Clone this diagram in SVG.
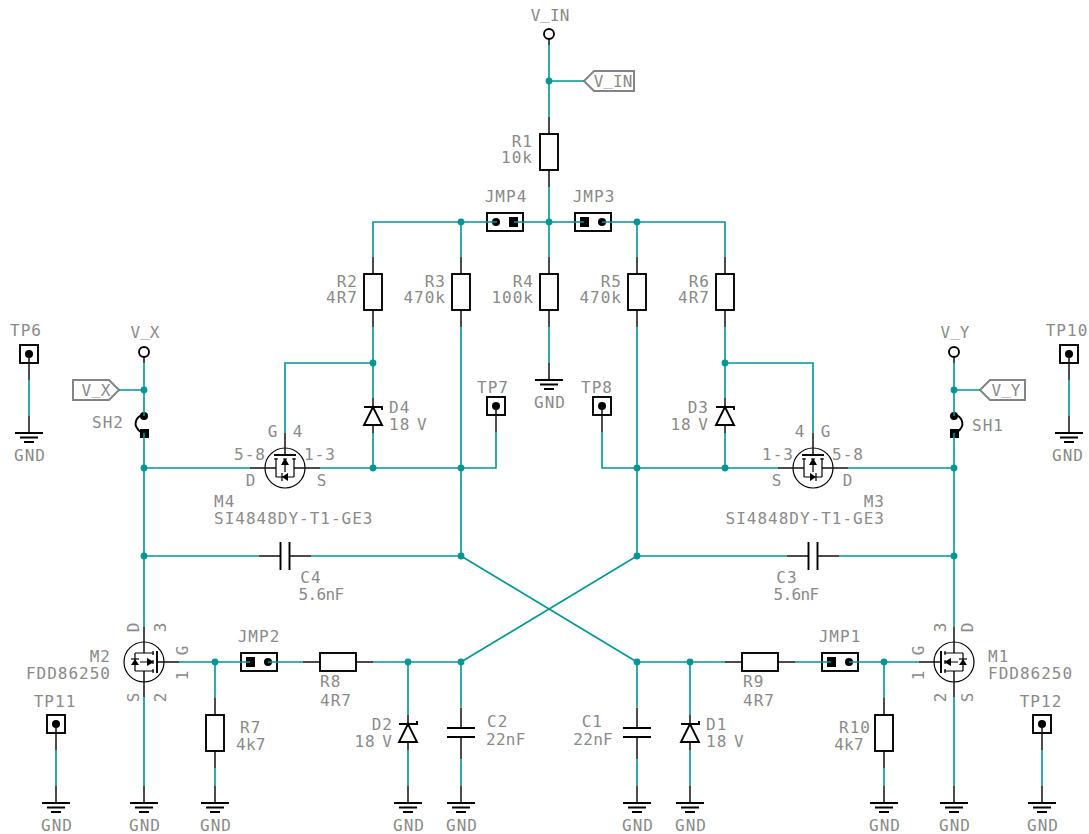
<svg xmlns="http://www.w3.org/2000/svg" width="1089" height="834" viewBox="0 0 1089 834">
<style>
text{font-family:"DejaVu Sans Mono","Liberation Mono",monospace;font-size:16px;letter-spacing:1px;word-spacing:-4px;fill:#8a8a8a;text-anchor:middle}
.e{text-anchor:end}
.s{text-anchor:start}
.u{letter-spacing:0}
.n{letter-spacing:.3px}
.c{letter-spacing:-.6px}
.b{fill:none;stroke:#000;stroke-width:1.9}
.p{fill:none;stroke:#111;stroke-width:1.5}
.t{fill:none;stroke:#000;stroke-width:1.2}
.f{fill:#000;stroke:none}
.w{fill:none;stroke:#009696;stroke-width:1.6}
.j{fill:#009696;stroke:none}
.l{fill:#fff;stroke:#848484;stroke-width:2}
</style>
<defs>
<g id="gnd"><path class="p" d="M0-17V0"/><path class="b" d="M-14 0H14M-9 4.500H9M-5 9H5"/></g>
<g id="res"><path class="p" d="M0-35V-18M0 18V35"/><rect class="b" x="-9" y="-18" width="18" height="36"/></g>
<g id="resh"><path class="p" d="M-35 0H-18M18 0H35"/><rect class="b" x="-18" y="-9" width="36" height="18"/></g>
<g id="tp"><rect class="b" x="-9" y="-9" width="18" height="18"/><circle class="f" r="4"/><path class="p" d="M0 0V26"/></g>
<g id="vpin"><circle class="b" r="5"/><path class="p" d="M0 5V11"/></g>
<g id="zener"><path class="p" d="M0-9V0M0 18V26"/><path class="b" d="M-9 0H9V3M0 0L-9 18H9Z"/></g>
<g id="zenerb"><path class="p" d="M0-9V0M0 18V26"/><path class="b" d="M-9 0H9V-3M0 0L-9 18H9Z"/></g>
<g id="jmp"><rect class="b" x="-18" y="-9" width="36" height="18"/><rect class="f" x="-13" y="-5" width="9" height="10"/><circle class="f" cx="9" r="4"/></g>
<g id="capv"><path class="p" d="M0-25V-4.500M0 4.500V27"/><path class="b" d="M-14-4.500H14M-14 4.500H14"/></g>
<g id="caph"><path class="p" d="M-26.500 0H-4.500M4.500 0H26.500"/><path class="b" d="M-4.500-14V14M4.500-14V14"/></g>
<g id="mos">
<circle class="t" r="20"/>
<path class="p" d="M0-35V-9M0 35V9M13 0H35"/>
<path class="t" d="M-9-9H10M-9 9H10M-9-9V9M9-11V-7M9-2V2M9 7V11M-4 0H3"/>
<path class="b" d="M13-11V11"/>
<path class="f" d="M3-4V4L10 0ZM-13 3H-5L-9-3Z"/>
<path class="t" d="M-13-3H-5"/>
</g>
</defs>

<g id="V_IN_PIN"><use href="#vpin" x="549" y="34"/><text class="u" x="550" y="21">V<tspan dy="-2">_</tspan><tspan dy="2">IN</tspan></text></g>
<g id="V_IN_LABEL"><path class="l" d="M584 81L594 71H634V91H594Z"/><text class="u" x="613" y="87">V<tspan dy="-2">_</tspan><tspan dy="2">IN</tspan></text></g>
<g id="R1"><use href="#res" x="549" y="152"/><text class="e" x="533" y="147">R1</text><text class="e" x="533" y="163">10k</text></g>
<g id="JMP4"><g transform="translate(505,222) scale(-1,1)"><use href="#jmp"/></g><text x="506" y="202">JMP4</text></g>
<g id="JMP3"><use href="#jmp" x="593" y="222"/><text x="594" y="202">JMP3</text></g>
<g id="R2"><use href="#res" x="373" y="292"/><text class="e" x="358" y="287">R2</text><text class="e" x="358" y="303">4R7</text></g>
<g id="R3"><use href="#res" x="461" y="292"/><text class="e" x="446" y="287">R3</text><text class="e" x="446" y="303">470k</text></g>
<g id="R4"><use href="#res" x="549" y="292"/><text class="e" x="534" y="287">R4</text><text class="e" x="534" y="303">100k</text></g>
<g id="R5"><use href="#res" x="637" y="292"/><text class="e" x="622" y="287">R5</text><text class="e" x="622" y="303">470k</text></g>
<g id="R6"><use href="#res" x="725" y="292"/><text class="e" x="710" y="287">R6</text><text class="e" x="710" y="303">4R7</text></g>
<g id="GND_R4"><use href="#gnd" x="549" y="380"/><text x="550" y="408">GND</text></g>

<g id="TP6"><use href="#tp" x="29" y="354"/><text x="26" y="336">TP6</text></g>
<g id="GND_TP6"><use href="#gnd" x="29" y="433"/><text x="30" y="461">GND</text></g>
<g id="TP10"><use href="#tp" x="1069" y="354"/><text x="1067" y="336">TP10</text></g>
<g id="GND_TP10"><use href="#gnd" x="1069" y="433"/><text x="1068" y="461">GND</text></g>
<g id="TP7"><use href="#tp" x="496" y="406"/><text x="493" y="393">TP7</text></g>
<g id="TP8"><use href="#tp" x="602" y="406"/><text x="597" y="393">TP8</text></g>

<g id="V_X_PIN"><use href="#vpin" x="144" y="352"/><text class="u" x="145" y="338">V<tspan dy="-2">_</tspan><tspan dy="2">X</tspan></text></g>
<g id="V_X_LABEL"><path class="l" d="M119 390L109 380H73V400H109Z"/><text class="u" x="96" y="396">V<tspan dy="-2">_</tspan><tspan dy="2">X</tspan></text></g>
<g id="V_Y_PIN"><use href="#vpin" x="954" y="352"/><text class="u" x="955" y="338">V<tspan dy="-2">_</tspan><tspan dy="2">Y</tspan></text></g>
<g id="V_Y_LABEL"><path class="l" d="M980 390L990 380H1025V400H990Z"/><text class="u" x="1006" y="396">V<tspan dy="-2">_</tspan><tspan dy="2">Y</tspan></text></g>
<g id="SH2"><circle class="f" cx="144" cy="416" r="4"/><rect class="f" x="140" y="429" width="9" height="9"/><path class="b" d="M143 415C136 416 134 424 137 428C138 430 139 431 141 432"/><text x="108" y="428">SH2</text></g>
<g id="SH1"><circle class="f" cx="954" cy="416" r="4"/><rect class="f" x="950" y="429" width="9" height="9"/><path class="b" d="M955 415C962 416 964 424 961 428C960 430 959 431 957 432"/><text x="988" y="431">SH1</text></g>

<g id="D4"><use href="#zener" x="373" y="407"/><text class="s" x="389" y="413">D4</text><text class="s" x="389" y="430">18 V</text></g>
<g id="D3"><use href="#zener" x="725" y="407"/><text class="e" x="709" y="413">D3</text><text class="e" x="709" y="430">18 V</text></g>
<g id="D2"><use href="#zenerb" x="408" y="724"/><text class="e" x="393" y="730">D2</text><text class="e" x="393" y="747">18 V</text></g>
<g id="D1"><use href="#zenerb" x="690" y="724"/><text class="s" x="706" y="730">D1</text><text class="s" x="706" y="747">18 V</text></g>

<g id="M4"><g transform="translate(285,468) rotate(-90)"><use href="#mos"/></g>
<text x="273" y="437">G</text><text x="298" y="437">4</text><text x="250" y="460">5-8</text><text x="320" y="460">1-3</text><text x="251" y="486">D</text><text x="322" y="486">S</text>
<text class="s" x="214" y="507">M4</text><text class="s" x="214" y="524">SI4848DY-T1-GE3</text></g>
<g id="M3"><g transform="translate(813,468) scale(-1,1) rotate(-90)"><use href="#mos"/></g>
<text x="826" y="437">G</text><text x="800" y="437">4</text><text x="848" y="460">5-8</text><text x="778" y="460">1-3</text><text x="848" y="486">D</text><text x="777" y="486">S</text>
<text class="e" x="885" y="507">M3</text><text class="e" x="885" y="524">SI4848DY-T1-GE3</text></g>
<g id="M2"><use href="#mos" x="144" y="662"/><text class="e" x="111" y="662">M2</text><text class="e" x="111" y="679">FDD86250</text>
<text transform="translate(139,627) rotate(-90)">D</text><text transform="translate(166,627) rotate(-90)">3</text><text transform="translate(139,697) rotate(-90)">S</text><text transform="translate(166,697) rotate(-90)">2</text><text transform="translate(188,650) rotate(-90)">G</text><text transform="translate(188,675) rotate(-90)">1</text></g>
<g id="M1"><g transform="translate(954,662) scale(-1,1)"><use href="#mos"/></g><text class="s" x="988" y="662">M1</text><text class="s" x="988" y="679">FDD86250</text>
<text transform="translate(973,627) rotate(-90)">D</text><text transform="translate(946,627) rotate(-90)">3</text><text transform="translate(973,697) rotate(-90)">S</text><text transform="translate(946,697) rotate(-90)">2</text><text transform="translate(924,650) rotate(-90)">G</text><text transform="translate(924,675) rotate(-90)">1</text></g>

<g id="C4"><use href="#caph" x="285" y="556"/><text x="311" y="583">C4</text><text class="c" x="321" y="600">5.6nF</text></g>
<g id="C3"><use href="#caph" x="813" y="556"/><text x="787" y="583">C3</text><text class="c" x="796" y="600">5.6nF</text></g>
<g id="C2"><use href="#capv" x="461" y="732.500"/><text class="s" x="487" y="727">C2</text><text class="s n" x="486" y="745">22nF</text></g>
<g id="C1"><use href="#capv" x="637" y="732.500"/><text class="e" x="603" y="727">C1</text><text class="e n" x="613" y="745">22nF</text></g>
<g id="JMP2"><use href="#jmp" x="259" y="662"/><text x="259" y="642">JMP2</text></g>
<g id="JMP1"><use href="#jmp" x="840" y="662"/><text x="840" y="642">JMP1</text></g>
<g id="R8"><use href="#resh" x="338" y="662"/><text class="s" x="320" y="687">R8</text><text class="s" x="320" y="706">4R7</text></g>
<g id="R9"><use href="#resh" x="760" y="662"/><text class="s" x="743" y="687">R9</text><text class="s" x="743" y="706">4R7</text></g>
<g id="R7"><use href="#res" x="215" y="733"/><text class="s" x="240" y="733">R7</text><text class="s n" x="236" y="750">4k7</text></g>
<g id="R10"><use href="#res" x="884" y="733"/><text class="e" x="871" y="733">R10</text><text class="e n" x="864" y="750">4k7</text></g>
<g id="TP11"><use href="#tp" x="56" y="724"/><text x="55" y="707">TP11</text></g>
<g id="TP12"><use href="#tp" x="1042" y="724"/><text x="1041" y="707">TP12</text></g>
<g id="GND_TP11"><use href="#gnd" x="56" y="803"/><text x="57" y="831">GND</text></g>
<g id="GND_M2"><use href="#gnd" x="144" y="803"/><text x="145" y="831">GND</text></g>
<g id="GND_R7"><use href="#gnd" x="215" y="803"/><text x="216" y="831">GND</text></g>
<g id="GND_D2"><use href="#gnd" x="408" y="803"/><text x="409" y="831">GND</text></g>
<g id="GND_C2"><use href="#gnd" x="461" y="803"/><text x="462" y="831">GND</text></g>
<g id="GND_C1"><use href="#gnd" x="637" y="803"/><text x="638" y="831">GND</text></g>
<g id="GND_D1"><use href="#gnd" x="690" y="803"/><text x="691" y="831">GND</text></g>
<g id="GND_R10"><use href="#gnd" x="884" y="803"/><text x="885" y="831">GND</text></g>
<g id="GND_M1"><use href="#gnd" x="954" y="803"/><text x="955" y="831">GND</text></g>
<g id="GND_TP12"><use href="#gnd" x="1042" y="803"/><text x="1043" y="831">GND</text></g>

<g id="connectors">
<path class="w" d="M549 45V117M549 81H584M549 187V257M514 222H584M602 222H725V257M497 222H373V257M549 327V363M461 222V257M637 222V257"/>
<path class="w" d="M373 327V398M373 433V468M725 327V398M725 433V468M373 363H285V433M725 363H813V433"/>
<path class="w" d="M144 363V416M144 433V627M119 390H144M954 363V416M954 433V627M980 390H954"/>
<path class="w" d="M144 468H250M320 468H496V432M848 468H954M778 468H602V432"/>
<path class="w" d="M461 327V556L637 662M637 327V556L461 662M144 556H258.500M311.500 556H461M637 556H786.500M839.500 556H954"/>
<path class="w" d="M179 662H250M268 662H303M373 662H461M637 662H725M795 662H831M849 662H919"/>
<path class="w" d="M215 662V698M215 768V786M408 662V715M408 750V786M461 662V707M461 759.500V786M637 662V707M637 759.500V786M690 662V715M690 750V786M884 662V698M884 768V786M144 697V786M954 697V786M56 750V786M1042 750V786M29 380V416M1069 380V416"/>
<circle class="j" cx="549" cy="81" r="3.400"/><circle class="j" cx="461" cy="222" r="3.400"/><circle class="j" cx="549" cy="222" r="3.400"/><circle class="j" cx="637" cy="222" r="3.400"/>
<circle class="j" cx="373" cy="363" r="3.400"/><circle class="j" cx="725" cy="363" r="3.400"/><circle class="j" cx="144" cy="390" r="3.400"/><circle class="j" cx="954" cy="390" r="3.400"/>
<circle class="j" cx="144" cy="468" r="3.400"/><circle class="j" cx="373" cy="468" r="3.400"/><circle class="j" cx="461" cy="468" r="3.400"/><circle class="j" cx="637" cy="468" r="3.400"/><circle class="j" cx="725" cy="468" r="3.400"/><circle class="j" cx="954" cy="468" r="3.400"/>
<circle class="j" cx="144" cy="556" r="3.400"/><circle class="j" cx="461" cy="556" r="3.400"/><circle class="j" cx="637" cy="556" r="3.400"/><circle class="j" cx="954" cy="556" r="3.400"/>
<circle class="j" cx="215" cy="662" r="3.400"/><circle class="j" cx="408" cy="662" r="3.400"/><circle class="j" cx="461" cy="662" r="3.400"/><circle class="j" cx="637" cy="662" r="3.400"/><circle class="j" cx="690" cy="662" r="3.400"/><circle class="j" cx="884" cy="662" r="3.400"/>
</g>
</svg>
